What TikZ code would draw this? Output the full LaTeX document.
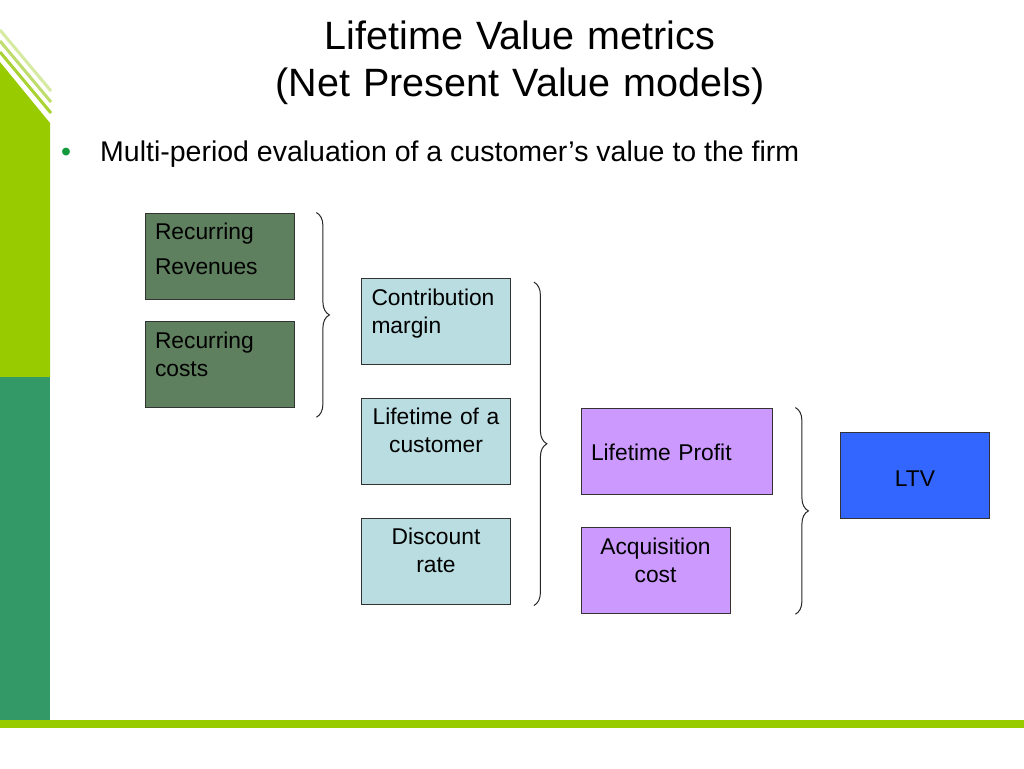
\documentclass[tikz,border=0pt]{standalone}
\usepackage{fontspec}
\setmainfont{Liberation Sans}
\usetikzlibrary{positioning, decorations.pathreplacing}

\definecolor{barGreen}{HTML}{99CC00}
\definecolor{barTeal}{HTML}{339966}
\definecolor{stripeA}{HTML}{A9D332}
\definecolor{stripeB}{HTML}{BEDD6C}
\definecolor{stripeC}{HTML}{D6EAA2}
\definecolor{dotGreen}{HTML}{129A3C}
\definecolor{recurGreen}{HTML}{5F805F}
\definecolor{inputBlue}{HTML}{B9DDE1}
\definecolor{profitPurple}{HTML}{CC99FF}
\definecolor{ltvBlue}{HTML}{3366FF}

\begin{document}
\begin{tikzpicture}[
                x=1pt, y=-1pt,
                node distance=33pt,
                box/.style={rectangle, draw=black!80, line width=0.8pt, inner xsep=10pt, inner ysep=0pt, minimum height=86pt, text width=129pt, font=\fontsize{22.8}{28}\selectfont},
                leftbox/.style={box, align=left},
                midbox/.style={box, align=center},
                twoline/.style={text height=16pt, text depth=49pt},
                brace/.style={draw=black!85, line width=1pt, decorate, decoration={brace, amplitude=13pt}}
            ]

            % Backgrounds
            \useasboundingbox[fill=white] (0,0) rectangle (1024,768);
            \fill[barGreen] (0,62) -- (50,123) -- (50,377) -- (0,377) -- cycle;
            \foreach \dy/\c in {10/stripeA, 21/stripeB, 32/stripeC}
                \draw[\c, line width=3pt] (0,{62-\dy}) -- (51,{123-\dy});
            \fill[barTeal] (0,377) rectangle (50,720);
            \fill[barGreen] (0,720) rectangle (1024,728);

            % Title and bullet
            \node[anchor=base, text width=800pt, align=center, inner sep=0pt, font=\fontsize{39.5}{47}\selectfont] (title) at (520,49) {Lifetime Value metrics\\(Net Present Value models)};
            \node[anchor=base west, inner sep=0pt, font=\fontsize{28.5}{34}\selectfont] (point) at (100,161) {Multi-period evaluation of a customer’s value to the firm};
            \node[text=dotGreen, inner sep=0pt, font=\fontsize{28.5}{34}\selectfont] (dot) at (66,155) {\textbullet};

            % Nodes
            \node[leftbox, twoline, fill=recurGreen] (rev) at (219.5,256) {Recurring\\[7pt]Revenues};
            \node[leftbox, twoline, fill=recurGreen, below=22pt of rev] (cost) {Recurring\\costs};

            \node[leftbox, twoline, fill=inputBlue] (contrib) at (436,321.5) {Contribution\\margin};
            \node[midbox, twoline, fill=inputBlue, below=of contrib] (life) {Lifetime of a\\customer};
            \node[midbox, twoline, fill=inputBlue, below=of life] (disc) {Discount\\rate};

            \node[leftbox, fill=profitPurple, text width=171pt, text height=19pt, text depth=0pt] (profit) at (676.5,451) {Lifetime Profit};
            \node[midbox, twoline, fill=profitPurple, below=of profit.south west, anchor=north west] (acq) {Acquisition\\cost};

            \node[midbox, fill=ltvBlue, text height=23pt, text depth=0pt] (ltv) at (915,475) {LTV};

            % Braces
            \draw[brace] ([xshift=22pt]rev.north east) -- ([xshift=22pt,yshift=-9pt]cost.south east);
            \draw[brace] ([xshift=23pt,yshift=-4pt]contrib.north east) -- ([xshift=23pt,yshift=-1pt]disc.south east);
            \draw[brace] ([xshift=23pt]profit.north east) -- ([xshift=23pt]profit.east |- acq.south);

        \end{tikzpicture}
\end{document}
